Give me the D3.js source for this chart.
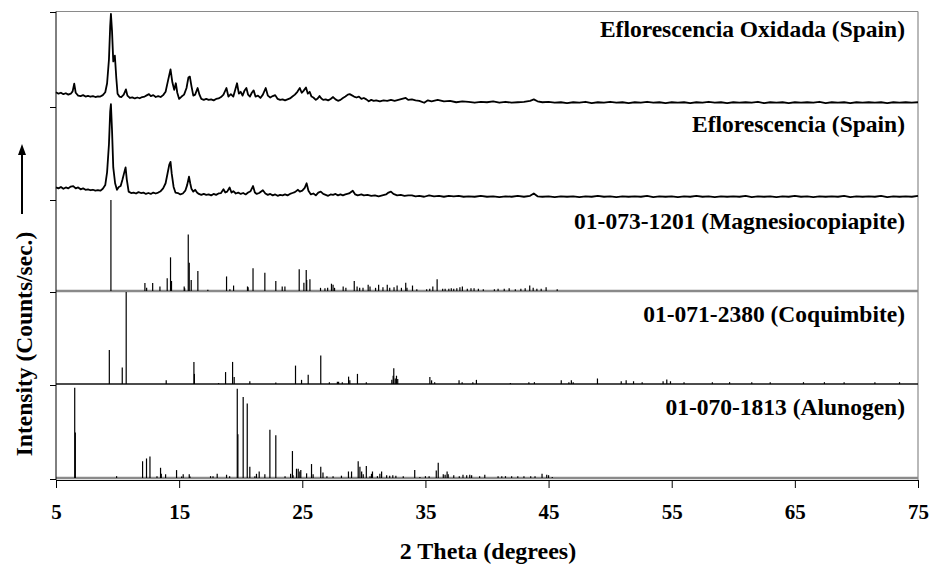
<!DOCTYPE html>
<html>
<head>
<meta charset="utf-8">
<script src="https://cdn.jsdelivr.net/npm/d3@7"></script>
<style>
  body { margin: 0; background: #fff; }
  svg text { font-family: 'Liberation Serif', 'Times New Roman', serif; font-weight: bold; fill: #000; }
</style>
</head>
<body>
<svg id="chart" width="934" height="569"></svg>
<script>
'use strict';

// measured patterns, [2theta, relative intensity]
var oxidada = [
  [5.0,15.5],[5.2,14.0],[5.4,15.0],[5.6,13.5],[5.8,14.5],[6.0,13.0],[6.2,14.0],[6.35,16.5],[6.48,24.5],[6.6,15.0],
  [6.8,12.0],[7.0,11.5],[7.2,12.5],[7.4,11.0],[7.6,11.8],[7.8,10.8],[8.0,11.5],[8.2,10.5],[8.4,11.2],[8.6,11.0],
  [8.8,12.5],[9.0,15.5],[9.15,25],[9.3,50],[9.4,85],[9.46,98],[9.55,80],[9.65,48],[9.78,54],[9.9,30],
  [10.0,14],[10.15,11],[10.3,10.5],[10.5,13],[10.68,18.5],[10.8,12],[11.0,9.5],[11.2,10.2],[11.4,9.0],[11.6,10.0],
  [11.8,9.2],[12.0,10.5],[12.2,11.0],[12.4,12.5],[12.55,13.5],[12.7,11.5],[12.9,12.5],[13.1,10.5],[13.3,11.5],[13.5,10.5],
  [13.7,12.5],[13.9,16],[14.1,28],[14.3,39.5],[14.45,26],[14.6,18],[14.73,25],[14.85,15],[15.0,8.5],[15.2,11],
  [15.4,13],[15.6,20],[15.75,31],[15.87,32],[16.0,22],[16.15,12],[16.3,13],[16.5,20],[16.65,13],[16.8,8.5],
  [17.0,7.5],[17.2,8.5],[17.4,7.5],[17.6,8.0],[17.8,7.0],[18.0,8.5],[18.2,9.0],[18.4,10.5],[18.6,13],[18.84,20],
  [19.0,11],[19.2,13.5],[19.4,11],[19.55,18],[19.7,25],[19.85,14],[20.0,16],[20.15,12],[20.3,17],[20.46,20],
  [20.6,13],[20.75,11],[20.9,15],[21.05,17.5],[21.2,11],[21.4,12],[21.6,9.5],[21.8,13],[22.03,20],[22.2,12],
  [22.4,10],[22.6,11.5],[22.8,12.5],[23.0,8.5],[23.2,7.5],[23.4,8.0],[23.6,7.0],[23.8,8.0],[24.0,9.0],[24.2,11],
  [24.4,13],[24.6,16],[24.8,20],[24.95,15],[25.1,17],[25.3,20.5],[25.45,14],[25.6,16],[25.75,11],[25.9,10],
  [26.1,7.5],[26.25,9],[26.4,11.5],[26.55,9],[26.7,7.5],[26.9,8],[27.1,7.0],[27.3,8.5],[27.5,10.5],[27.7,8],
  [27.9,6.5],[28.1,7.5],[28.3,9.5],[28.5,11],[28.7,13],[28.85,13.5],[29.0,12.5],[29.2,11],[29.4,10],[29.6,11],
  [29.8,8.5],[30.0,9.5],[30.2,8.0],[30.4,6.0],[30.6,7.5],[30.8,6.5],[31.0,7.0],[31.3,6.0],[31.6,7.0],[31.9,6.5],
  [32.2,7.5],[32.5,6.5],[32.8,7.5],[33.1,8.5],[33.4,9.5],[33.6,7.5],[33.9,8.0],[34.2,7.0],[34.5,6.5],[34.9,4.5],
  [35.2,7.0],[35.5,6.0],[36.0,7.5],[36.5,6.0],[37.0,6.5],[37.5,5.0],[38.0,6.0],[38.5,5.5],[39.0,4.5],[39.5,5.5],
  [40.0,5.0],[40.5,6.0],[41.0,4.5],[41.5,5.5],[42.0,4.5],[42.5,5.0],[43.0,5.5],[43.5,6.5],[43.8,8.0],[44.1,6.0],
  [44.5,5.0],[45.0,5.5],[45.5,4.5],[46.0,5.0],[46.5,4.0],[47.0,5.0],[47.5,4.5],[48.0,5.5],[48.5,4.0],[49.0,5.0],
  [49.5,4.5],[50.0,5.5],[50.5,4.5],[51.0,5.0],[51.5,4.0],[52.0,5.0],[52.5,4.5],[53.0,5.5],[53.5,4.5],[54.0,5.0],
  [54.5,4.0],[55.0,5.0],[55.5,4.5],[56.0,5.0],[56.5,4.0],[57.0,5.0],[57.5,4.5],[58.0,5.5],[58.5,4.5],[59.0,5.0],
  [59.5,4.0],[60.0,5.0],[60.5,4.5],[61.0,5.0],[61.5,4.5],[62.0,5.5],[62.5,4.0],[63.0,5.0],[63.5,4.5],[64.0,5.0],
  [64.5,4.0],[65.0,5.0],[65.5,4.5],[66.0,5.0],[66.5,4.5],[67.0,5.5],[67.5,4.0],[68.0,5.0],[68.5,4.5],[69.0,5.0],
  [69.5,4.0],[70.0,5.0],[70.5,4.5],[71.0,5.0],[71.5,4.5],[72.0,5.0],[72.5,4.0],[73.0,5.0],[73.5,4.5],[74.0,5.0],
  [74.5,4.5],[75.0,5.0]
];

var eflorescencia = [
  [5.0,13.5],[5.2,12.5],[5.4,14],[5.6,12],[5.8,13.5],[6.0,12.5],[6.2,14.5],[6.4,15],[6.6,12.5],[6.8,13.5],
  [7.0,11.5],[7.2,12.5],[7.4,11],[7.6,11.5],[7.8,10.5],[8.0,11],[8.2,10],[8.4,10.5],[8.6,10],[8.8,12],
  [9.0,16],[9.15,30],[9.3,60],[9.4,95],[9.46,103],[9.55,75],[9.65,35],[9.8,18],[9.95,11],[10.1,14],
  [10.25,15],[10.4,22],[10.55,30],[10.65,35],[10.75,22],[10.9,9],[11.1,7.5],[11.3,8],[11.5,7],[11.7,8.5],
  [11.9,7.5],[12.1,8],[12.3,6.5],[12.5,7.5],[12.7,6.5],[12.9,8],[13.1,7],[13.3,8],[13.5,9.5],[13.7,12.5],
  [13.9,18],[14.05,28],[14.2,38],[14.3,41],[14.4,28],[14.55,14],[14.7,8],[14.9,7.5],[15.1,6],[15.3,7],
  [15.5,10],[15.65,16],[15.8,25],[15.9,18],[16.0,12],[16.15,9],[16.3,11],[16.45,8],[16.6,6.5],[16.8,5.5],
  [17.0,6.5],[17.2,5.5],[17.4,6.0],[17.6,5.0],[17.8,6.5],[18.0,5.5],[18.2,7],[18.4,7.5],[18.6,11.5],[18.75,8],
  [18.9,9],[19.1,13.5],[19.25,8],[19.4,9.5],[19.6,7],[19.8,8],[20.0,6.5],[20.2,7.5],[20.4,6],[20.6,8],
  [20.8,9.5],[21.0,15],[21.15,8],[21.3,6.5],[21.5,7.5],[21.8,10.5],[22.0,7],[22.2,5.5],[22.4,6.5],[22.6,5],
  [22.8,6],[23.0,4.5],[23.2,5.5],[23.4,5],[23.6,6],[23.8,5],[24.0,6.5],[24.2,7.5],[24.4,8.5],[24.65,11],
  [24.8,9],[25.0,10],[25.2,13],[25.35,18],[25.5,10],[25.7,6],[25.9,7],[26.1,5],[26.3,8],[26.5,9],
  [26.7,6.5],[26.9,5.5],[27.1,4.5],[27.3,6],[27.5,5.5],[27.7,6.5],[27.9,5],[28.1,6],[28.3,5],[28.5,6],
  [28.8,7],[29.1,10],[29.3,6],[29.5,5],[29.8,6],[30.0,5],[30.3,5.5],[30.6,4.5],[30.9,5],[31.2,4],
  [31.5,5],[31.8,6],[32.0,8],[32.2,9],[32.4,6.5],[32.7,5],[33.0,5.5],[33.3,4.5],[33.6,5],[33.9,5],
  [34.2,4],[34.5,4.5],[34.9,3.5],[35.3,5],[35.7,4],[36.1,4.5],[36.5,3.5],[36.9,4.5],[37.3,4],[37.7,4.5],
  [38.1,3.5],[38.5,4.0],[39.0,3.5],[39.5,4.5],[40.0,3.5],[40.5,4.0],[41.0,3.0],[41.5,4.0],[42.0,3.5],[42.5,4.5],
  [43.0,3.5],[43.5,4.5],[43.8,7.0],[44.1,4.0],[44.5,3.5],[45.0,4.0],[45.5,3.0],[46.0,4.0],[46.5,3.5],[47.0,4.0],
  [47.5,3.0],[48.0,4.0],[48.5,3.5],[49.0,4.5],[49.5,3.5],[50.0,4.0],[50.5,3.0],[51.0,4.0],[51.5,3.5],[52.0,4.0],
  [52.5,3.5],[53.0,4.5],[53.5,3.0],[54.0,4.0],[54.5,3.5],[55.0,4.0],[55.5,3.0],[56.0,4.0],[56.5,3.5],[57.0,4.5],
  [57.5,3.5],[58.0,4.0],[58.5,3.0],[59.0,4.0],[59.5,3.5],[60.0,4.0],[60.5,3.5],[61.0,4.5],[61.5,3.0],[62.0,4.0],
  [62.5,3.5],[63.0,4.0],[63.5,3.0],[64.0,4.0],[64.5,3.5],[65.0,4.5],[65.5,3.5],[66.0,4.0],[66.5,3.0],[67.0,4.0],
  [67.5,3.5],[68.0,4.0],[68.5,3.5],[69.0,4.5],[69.5,3.0],[70.0,4.0],[70.5,3.5],[71.0,4.0],[71.5,3.5],[72.0,4.5],
  [72.5,3.0],[73.0,4.0],[73.5,3.5],[74.0,4.0],[74.5,3.5],[75.0,4.5]
];

// reference cards (stick patterns)
var magnesiocopiapite = [
  [9.46,100],[12.22,8.8],[12.36,3.5],[12.85,8.8],[13.44,5],[14.03,14],[14.3,37],[14.38,11],[15.41,5],[15.45,3],
  [15.74,62],[15.82,31],[15.98,12],[16.52,22],[17.33,1.5],[18.85,16],[19.12,2],[19.42,6],[20.55,5],[20.6,4],
  [21.0,25],[21.96,20],[22.85,11],[23.37,5],[23.59,5],[24.75,24],[25.13,9],[25.32,23],[25.36,12],[25.62,13],
  [26.48,3.5],[26.84,3],[27.06,3.5],[27.37,8],[27.5,7],[27.62,3.5],[28.32,5],[28.54,3.5],[29.22,11],[29.45,5],
  [29.66,3.5],[29.93,3.5],[30.35,7],[30.5,5],[30.95,3.5],[31.2,7],[31.55,4],[31.9,7],[32.1,3.5],[32.45,4],
  [32.7,6],[33.05,3.5],[33.4,9],[33.5,3.5],[33.95,6],[34.3,2],[35.1,2],[35.35,2.5],[35.6,5],[35.95,13],
  [36.4,2.5],[36.6,2.5],[36.9,2.5],[37.1,3],[37.3,2.5],[37.55,3],[37.8,4],[38.0,5],[38.4,2.5],[38.7,3],
  [38.95,3],[39.3,2.5],[39.7,2],[40.6,2],[40.9,2.5],[41.4,2.5],[41.8,3],[42.3,2],[42.75,2.5],[43.1,3],
  [43.47,6],[43.75,3.5],[44.05,2.5],[44.4,2.5],[44.8,4],[45.7,2]
];

var coquimbite = [
  [9.33,37],[10.38,18],[10.7,100],[13.95,4],[16.2,24],[16.24,11],[18.2,1],[18.77,13],[19.34,24],[19.47,7.5],
  [20.74,3],[22.85,1.5],[24.45,20],[24.94,4.5],[25.48,10],[26.5,31],[27.2,2],[27.85,2.5],[27.95,2.5],[28.25,2],
  [28.76,8],[28.86,4],[29.48,11],[30.2,2],[32.27,4.5],[32.38,9],[32.43,17],[32.55,6],[32.65,9],[32.75,5.5],
  [35.36,7.5],[35.5,4],[35.75,2],[37.73,4],[37.98,2],[38.85,2],[39.14,4.5],[41.9,1],[43.4,2],[43.85,2],
  [46.03,4],[46.65,2],[46.85,4],[47.0,2],[48.97,6],[50.9,3],[51.3,4],[51.9,3],[52.6,2],[54.3,3],
  [54.6,5],[54.9,3],[56.0,2],[58.3,2],[59.7,2],[61.5,2],[63.0,2],[65.7,2],[67.4,2],[69.0,2],
  [71.5,2],[73.5,2]
];

var alunogen = [
  [6.52,97],[6.57,49],[9.92,2],[12.03,18],[12.35,21],[12.63,23],[13.2,2],[13.49,11],[13.55,4.5],[13.9,4],
  [14.79,8.5],[15.2,1.5],[15.33,4],[15.82,4],[15.88,1.5],[17.55,2],[17.75,2],[18.09,4.5],[18.85,3.5],[19.1,2],
  [19.72,96],[19.77,47],[20.2,87],[20.53,80],[20.74,12],[21.15,2],[21.28,4.5],[21.5,7],[21.96,4],[22.37,52],
  [22.85,46],[23.6,2],[24.05,4.5],[24.2,29],[24.25,3],[24.53,10],[24.67,10],[24.8,7],[24.88,8.5],[25.35,5],
  [25.75,15],[25.88,4],[26.5,12],[26.68,6],[27.0,2],[27.5,2],[28.18,2.5],[28.75,7],[29.0,7],[29.54,18],
  [29.68,12],[29.82,7],[29.95,4],[30.2,13],[30.5,2],[30.62,4.5],[30.7,7],[31.1,2],[31.3,4.5],[31.44,7],
  [31.85,3],[32.1,2.5],[32.35,3],[32.6,2.5],[33.2,2],[34.13,8.5],[34.55,1],[35.0,2],[35.3,2],[35.88,8],
  [36.04,16.5],[36.45,4],[36.6,3.5],[36.76,7],[36.85,4],[37.3,3],[37.75,2],[38.05,3.5],[38.35,3],[38.6,3.5],
  [38.75,3],[39.4,2],[39.82,3.5],[40.9,2],[41.2,2],[41.5,2],[42.0,2],[42.5,2],[43.0,2],[43.55,2],
  [43.9,2],[44.47,4.5],[44.85,3.5],[45.0,3],[45.3,1]
];

var patternLabels = [
  'Eflorescencia Oxidada (Spain)',
  'Eflorescencia (Spain)',
  '01-073-1201 (Magnesiocopiapite)',
  '01-071-2380 (Coquimbite)',
  '01-070-1813 (Alunogen)'
];

var xTicks = [5, 15, 25, 35, 45, 55, 65, 75];

var svg = d3.select('#chart');
var margin = {left: 56, right: 16, top: 12, bottom: 90};
var width = 934 - margin.left - margin.right;
var rowEdges = [12, 107, 200, 292, 385, 479];
var labelOffsets = [25, 25, 29, 30, 30];

var x = d3.scaleLinear().domain([5, 75]).range([margin.left, margin.left + width]);

function rowScale(i, stick) {
  return d3.scaleLinear()
    .domain([0, 100])
    .range([rowEdges[i + 1] - (stick ? 1 : 0), rowEdges[i]]);
}

// frame (top and right edges in grey like the original)
svg.append('line')
  .attr('x1', margin.left).attr('x2', x(75))
  .attr('y1', 11.5).attr('y2', 11.5)
  .attr('stroke', '#8a8a8a').attr('stroke-width', 1.2);
svg.append('line')
  .attr('x1', x(75)).attr('x2', x(75))
  .attr('y1', 11.5).attr('y2', 480)
  .attr('stroke', '#8a8a8a').attr('stroke-width', 1.2);

// traces
var traces = [oxidada, eflorescencia];
traces.forEach(function(data, i) {
  var y = rowScale(i, false);
  var line = d3.line()
    .x(function(d) { return x(d[0]); })
    .y(function(d) { return y(d[1]); });
  svg.append('path')
    .datum(data)
    .attr('fill', 'none')
    .attr('stroke', '#000')
    .attr('stroke-width', 1.8)
    .attr('stroke-linejoin', 'round')
    .attr('d', line);
});

// stick patterns
var sticks = [magnesiocopiapite, coquimbite, alunogen];
var baseColors = ['#8a8a8a', '#111', '#8a8a8a'];
sticks.forEach(function(data, j) {
  var i = j + 2;
  var y = rowScale(i, true);
  svg.append('line')
    .attr('x1', margin.left).attr('x2', x(75))
    .attr('y1', y(0)).attr('y2', y(0))
    .attr('stroke', baseColors[j])
    .attr('stroke-width', j === 1 ? 1.4 : 2.4);
  svg.append('g')
    .selectAll('line')
    .data(data)
    .enter().append('line')
      .attr('x1', function(d) { return x(d[0]); })
      .attr('x2', function(d) { return x(d[0]); })
      .attr('y1', y(0))
      .attr('y2', function(d) { return y(d[1]); })
      .attr('stroke', '#000')
      .attr('stroke-width', 1.2);
});

// pattern labels
svg.append('g')
  .selectAll('text')
  .data(patternLabels)
  .enter().append('text')
    .attr('x', 905)
    .attr('y', function(d, i) { return rowEdges[i] + labelOffsets[i]; })
    .attr('text-anchor', 'end')
    .style('font-size', '23.5px')
    .text(function(d) { return d; });

// left axis: one tick per panel edge
var edgeScale = d3.scaleLinear().domain([0, 600]).range([0, 600]);
svg.append('g')
  .attr('transform', 'translate(' + margin.left + ',0)')
  .call(d3.axisLeft(edgeScale).tickValues(rowEdges).tickSize(6).tickFormat(''))
  .call(function(g) { g.select('.domain').remove(); });
svg.append('line')
  .attr('x1', margin.left).attr('x2', margin.left)
  .attr('y1', 11.5).attr('y2', 480)
  .attr('stroke', '#000');

// bottom axis
var xAxis = svg.append('g')
  .attr('transform', 'translate(0,480)')
  .call(d3.axisBottom(x).tickValues(xTicks).tickSize(8).tickPadding(16).tickFormat(d3.format('d')));
xAxis.select('.domain').attr('stroke', '#000');
xAxis.selectAll('text')
  .style('font-size', '21px')
  .style('font-family', "'Liberation Serif', serif")
  .style('font-weight', 'bold');

svg.append('text')
  .attr('x', 488)
  .attr('y', 559)
  .attr('text-anchor', 'middle')
  .style('font-size', '24px')
  .text('2 Theta (degrees)');

svg.append('text')
  .attr('transform', 'translate(32,344) rotate(-90)')
  .attr('text-anchor', 'middle')
  .style('font-size', '23.5px')
  .text('Intensity (Counts/sec.)');

// arrow up
svg.append('line')
  .attr('x1', 22).attr('x2', 22)
  .attr('y1', 214).attr('y2', 152)
  .attr('stroke', '#000').attr('stroke-width', 2);
svg.append('path')
  .attr('d', 'M22,144 L18,155 L26,155 Z')
  .attr('fill', '#000');
</script>
</body>
</html>
